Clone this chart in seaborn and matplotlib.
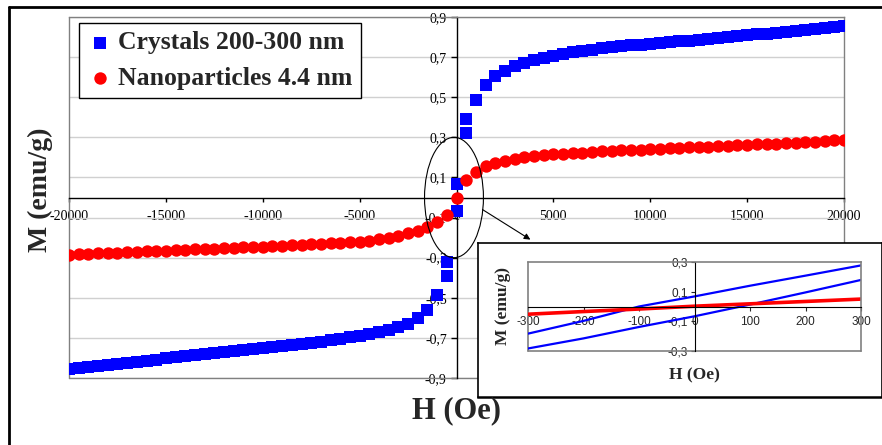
import matplotlib
matplotlib.use('Agg')
import pandas as pd
import matplotlib.pyplot as plt
import seaborn as sns
from matplotlib.patches import Ellipse
from matplotlib.lines import Line2D
from matplotlib.ticker import FuncFormatter

sns.set_style('white')
plt.rcParams['font.family'] = ['Liberation Serif', 'DejaVu Serif']
plt.rcParams['axes.unicode_minus'] = False

# applied field (Oe), one value every 500 Oe
field = [-20000, -19500, -19000, -18500, -18000, -17500, -17000, -16500, -16000, -15500,
         -15000, -14500, -14000, -13500, -13000, -12500, -12000, -11500, -11000, -10500,
         -10000, -9500, -9000, -8500, -8000, -7500, -7000, -6500, -6000, -5500,
         -5000, -4500, -4000, -3500, -3000, -2500, -2000, -1500, -1000, -500,
         0,
         500, 1000, 1500, 2000, 2500, 3000, 3500, 4000, 4500, 5000,
         5500, 6000, 6500, 7000, 7500, 8000, 8500, 9000, 9500, 10000,
         10500, 11000, 11500, 12000, 12500, 13000, 13500, 14000, 14500, 15000,
         15500, 16000, 16500, 17000, 17500, 18000, 18500, 19000, 19500, 20000]

# crystals 200-300 nm (emu/g)
crystals = [-0.857, -0.852, -0.846, -0.841, -0.836, -0.831, -0.826, -0.821, -0.816, -0.808,
            -0.800, -0.796, -0.791, -0.786, -0.781, -0.776, -0.771, -0.766, -0.761, -0.756,
            -0.751, -0.746, -0.741, -0.736, -0.731, -0.725, -0.719, -0.712, -0.705, -0.698,
            -0.690, -0.681, -0.671, -0.660, -0.648, -0.630, -0.600, -0.560, -0.488, -0.390,
            0.068,
            0.390, 0.485, 0.560, 0.605, 0.632, 0.655, 0.672, 0.685, 0.697, 0.707,
            0.716, 0.724, 0.731, 0.737, 0.743, 0.748, 0.753, 0.758, 0.762, 0.766,
            0.770, 0.774, 0.778, 0.782, 0.786, 0.790, 0.795, 0.800, 0.805, 0.809,
            0.813, 0.817, 0.821, 0.825, 0.830, 0.834, 0.839, 0.844, 0.849, 0.855]
# extra points of the crystals loop near zero field
crystals_extra_field = [-500, 0, 500]
crystals_extra = [-0.320, -0.065, 0.320]

# nanoparticles 4.4 nm (emu/g)
nanoparticles = [-0.285, -0.283, -0.281, -0.279, -0.277, -0.275, -0.273, -0.271, -0.269, -0.267,
                 -0.265, -0.263, -0.261, -0.259, -0.257, -0.255, -0.253, -0.251, -0.249, -0.247,
                 -0.245, -0.243, -0.241, -0.239, -0.237, -0.234, -0.232, -0.229, -0.226, -0.223,
                 -0.220, -0.215, -0.208, -0.200, -0.190, -0.178, -0.166, -0.148, -0.123, -0.085,
                 0.0,
                 0.085, 0.128, 0.155, 0.172, 0.184, 0.194, 0.201, 0.206, 0.211, 0.215,
                 0.218, 0.221, 0.224, 0.227, 0.230, 0.233, 0.235, 0.237, 0.239, 0.241,
                 0.243, 0.245, 0.247, 0.250, 0.252, 0.254, 0.256, 0.258, 0.261, 0.263,
                 0.265, 0.267, 0.269, 0.272, 0.274, 0.277, 0.279, 0.282, 0.285, 0.288]

# zoom on the low field region
inset_field = [-300, -200, -100, 0, 100, 200, 300]
inset_upper = [-0.183, -0.097, 0.0, 0.068, 0.140, 0.208, 0.277]
inset_lower = [-0.283, -0.215, -0.138, -0.066, 0.013, 0.095, 0.179]
inset_nano = [-0.052, -0.034, -0.017, 0.002, 0.018, 0.034, 0.050]

main_xticks = [-20000, -15000, -10000, -5000, 0, 5000, 10000, 15000, 20000]
main_yticks = [-0.9, -0.7, -0.5, -0.3, -0.1, 0.1, 0.3, 0.5, 0.7, 0.9]
inset_xticks = [-300, -200, -100, 0, 100, 200, 300]
inset_yticks = [-0.3, -0.1, 0.1, 0.3]

BLUE = '#0000ff'
RED = '#ff0000'
GREY = '#808080'


def comma(v, pos):
    return ('%.1f' % v).replace('.', ',')


def whole(v, pos):
    return '%d' % round(v)


fig = plt.figure(figsize=(8.82, 4.45), dpi=100)
fig.patch.set_facecolor('white')

ax = fig.add_axes([69 / 882, 1 - 378 / 445, 775 / 882, 361 / 445])

df_c = pd.DataFrame({'H': field + crystals_extra_field, 'M': crystals + crystals_extra})
df_n = pd.DataFrame({'H': field, 'M': nanoparticles})
sns.scatterplot(data=df_c, x='H', y='M', marker='s', s=80, color=BLUE, linewidth=0,
                ax=ax, label='Crystals 200-300 nm', zorder=3)
sns.scatterplot(data=df_n, x='H', y='M', marker='o', s=80, color=RED, linewidth=0,
                ax=ax, label='Nanoparticles 4.4 nm', zorder=3)

ax.set_xlim(-20000, 20000)
ax.set_ylim(-0.9, 0.9)
ax.set_xlabel('')
ax.set_ylabel('')
ax.set_xticks(main_xticks)
ax.set_yticks(main_yticks)
ax.xaxis.set_major_formatter(FuncFormatter(whole))
ax.yaxis.set_major_formatter(FuncFormatter(comma))
ax.set_axisbelow(True)
ax.yaxis.grid(True, color='#d0d0d0', lw=1)
ax.xaxis.grid(False)

# axes cross at the origin, plot area framed in grey
ax.spines['left'].set_position(('data', 0))
ax.spines['bottom'].set_position(('data', 0))
for s in ['left', 'bottom']:
    ax.spines[s].set_color('black')
    ax.spines[s].set_linewidth(1)
for s in ['top', 'right']:
    ax.spines[s].set_color(GREY)
    ax.spines[s].set_linewidth(1)
ax.axvline(-20000, color=GREY, lw=1, clip_on=False, zorder=1)
ax.axhline(-0.9, color=GREY, lw=1, clip_on=False, zorder=1)
ax.tick_params(axis='x', direction='out', length=3, width=1, pad=6, labelsize=10,
               bottom=True, colors='black')
ax.tick_params(axis='y', direction='out', length=4, width=1, pad=3, labelsize=10,
               left=True, colors='black')

leg = ax.legend(loc='upper left', bbox_to_anchor=(0.0129, 0.983), frameon=True,
                fancybox=False, edgecolor='black', framealpha=1,
                prop=dict(family='Liberation Serif', weight='bold', size=18.5),
                handlelength=1.0, handletextpad=0.2, borderpad=0.32,
                labelspacing=0.5, borderaxespad=0)
leg.get_frame().set_linewidth(1.0)

# ellipse round the low field region and arrow towards the zoom
ax.add_patch(Ellipse((-130, 0.0), 3040, 0.6, fill=False, edgecolor='black', lw=0.8, zorder=4))
ax.annotate('', xy=(3814, -0.21), xytext=(1340, -0.06),
            arrowprops=dict(arrowstyle='-|>', color='black', lw=0.8,
                            mutation_scale=9, shrinkA=0, shrinkB=0))

fig.text(40 / 882, 1 - 190 / 445, 'M (emu/g)', rotation=90, ha='center', va='center',
         fontsize=20, fontweight='bold')
fig.text(457 / 882, 1 - 411 / 445, 'H (Oe)', ha='center', va='center',
         fontsize=22, fontweight='bold')

# outer frame of the picture
fig.add_artist(Line2D([9 / 882, 1], [1 - 7 / 445, 1 - 7 / 445], transform=fig.transFigure,
                      color='black', lw=2))
fig.add_artist(Line2D([9 / 882, 9 / 882], [0, 1 - 7 / 445], transform=fig.transFigure,
                      color='black', lw=2))

# inset frame
frame = fig.add_axes([478 / 882, 1 - 397 / 445, 404 / 882, 154 / 445])
frame.set_xticks([])
frame.set_yticks([])
frame.set_facecolor('white')
for s in frame.spines.values():
    s.set_color('black')
    s.set_linewidth(1.2)
frame.spines['bottom'].set_linewidth(1.8)

ins = fig.add_axes([528 / 882, 1 - 351 / 445, 333 / 882, 89 / 445])
sns.lineplot(x=inset_field, y=inset_upper, color=BLUE, lw=1.6, ax=ins)
sns.lineplot(x=inset_field, y=inset_lower, color=BLUE, lw=1.6, ax=ins)
sns.lineplot(x=inset_field, y=inset_nano, color=RED, lw=2.6, ax=ins)
ins.set_xlim(-300, 300)
ins.set_ylim(-0.3, 0.3)
ins.set_xticks(inset_xticks)
ins.set_yticks(inset_yticks)
ins.xaxis.set_major_formatter(FuncFormatter(whole))
ins.yaxis.set_major_formatter(FuncFormatter(comma))
ins.grid(False)
ins.spines['left'].set_position(('data', 0))
ins.spines['bottom'].set_position(('data', 0))
for s in ['left', 'bottom']:
    ins.spines[s].set_color('black')
    ins.spines[s].set_linewidth(0.8)
for s in ['top', 'right']:
    ins.spines[s].set_color(GREY)
    ins.spines[s].set_linewidth(1.2)
ins.axvline(-300, color=GREY, lw=1.2, clip_on=False, zorder=1)
ins.axhline(-0.3, color=GREY, lw=1.2, clip_on=False, zorder=1)
ins.tick_params(axis='x', direction='out', length=3, width=0.8, pad=4, labelsize=8.5,
                bottom=True, labelfontfamily='Liberation Sans')
ins.tick_params(axis='y', direction='out', length=3, width=0.8, pad=2, labelsize=8.5,
                left=True, labelfontfamily='Liberation Sans')

fig.text(503 / 882, 1 - 306 / 445, 'M (emu/g)', rotation=90, ha='center', va='center',
         fontsize=12.5, fontweight='bold')
fig.text(694 / 882, 1 - 375 / 445, 'H (Oe)', ha='center', va='center',
         fontsize=12.5, fontweight='bold')

fig.savefig('out.png', dpi=100)
